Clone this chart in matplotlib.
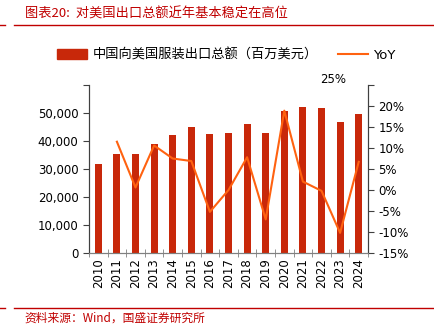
import matplotlib.pyplot as plt
from matplotlib.lines import Line2D
from matplotlib.patches import Patch

plt.rcParams['font.family'] = ['DejaVu Sans', 'Noto Sans CJK SC']

years = ['2010', '2011', '2012', '2013', '2014', '2015', '2016', '2017',
         '2018', '2019', '2020', '2021', '2022', '2023', '2024']
exports = [31700, 35350, 35350, 39000, 42000, 45100, 42500, 42800,
           45900, 42800, 50700, 52000, 51800, 46700, 49600]
yoy_years = years[1:]
yoy = [11.5, 0.6, 10.6, 7.5, 6.9, -5.2, 0.0, 7.8, -7.0, 18.9, 2.0, -0.2, -10.2, 6.7]

bar_color = '#C8280A'
line_color = '#FF6210'
red = '#C00000'

fig = plt.figure(figsize=(4.35, 3.33), dpi=100)
ax = fig.add_axes([0.2046, 0.2402, 0.6414, 0.5045])
ax2 = ax.twinx()

x = list(range(len(years)))
ax.bar(x, exports, width=0.38, color=bar_color, zorder=2)
ax2.plot(x[1:], yoy, color=line_color, lw=1.5, zorder=3)

ax.set_xlim(-0.5, len(years) - 0.5)
ax.set_ylim(0, 60000)
ax.set_yticks(range(0, 60001, 10000))
ax.set_yticklabels(['0', '10,000', '20,000', '30,000', '40,000', '50,000', ''])
ax2.set_ylim(-15, 25)
ax2.set_yticks(range(-15, 26, 5))
ax2.set_yticklabels([f'{v}%' for v in range(-15, 21, 5)] + [''])

ax.set_xticks(x)
ax.set_xticklabels(years, rotation=90)
ax.set_xticks([i - 0.5 for i in range(len(years) + 1)], minor=True)
ax.tick_params(axis='x', which='major', length=0, labelsize=8.5, pad=4)
ax.tick_params(axis='x', which='minor', direction='inout', length=6, color='#808080')
ax.tick_params(axis='y', labelsize=8.5, length=4, color='#404040')
ax2.tick_params(axis='y', labelsize=8.5, length=4, color='#404040')

for a in (ax, ax2):
    a.spines['top'].set_visible(False)
    a.spines['left'].set_color('#404040')
    a.spines['right'].set_color('#404040')
    a.spines['bottom'].set_color('#808080')

fig.text(0.765, 0.742, '25%', fontsize=8.5, ha='center', va='bottom')

handles = [Patch(color=bar_color), Line2D([], [], color=line_color, lw=1.5)]
fig.legend(handles, ['中国向美国服装出口总额（百万美元）', 'YoY'],
           loc='center', bbox_to_anchor=(0.52, 0.835), ncol=2, frameon=False,
           fontsize=9.5, handlelength=2.3, handleheight=0.8, columnspacing=1.5,
           handletextpad=0.4)

# title and source with red rules
fig.text(0.057, 0.958, '图表20:  对美国出口总额近年基本稳定在高位', color=red,
         fontsize=9.5, style='italic', va='center',
         family=['Noto Sans CJK SC', 'DejaVu Sans'])
fig.text(0.057, 0.045, '资料来源：Wind，国盛证券研究所', color=red,
         fontsize=8.5, style='italic', va='center',
         family=['Noto Sans CJK SC', 'DejaVu Sans'])
for yy in (0.925, 0.075):
    fig.add_artist(Line2D([0.0, 0.012], [yy, yy], color=red, lw=1))
    fig.add_artist(Line2D([0.032, 1.0], [yy, yy], color=red, lw=1))

fig.savefig('out.png', dpi=100)
